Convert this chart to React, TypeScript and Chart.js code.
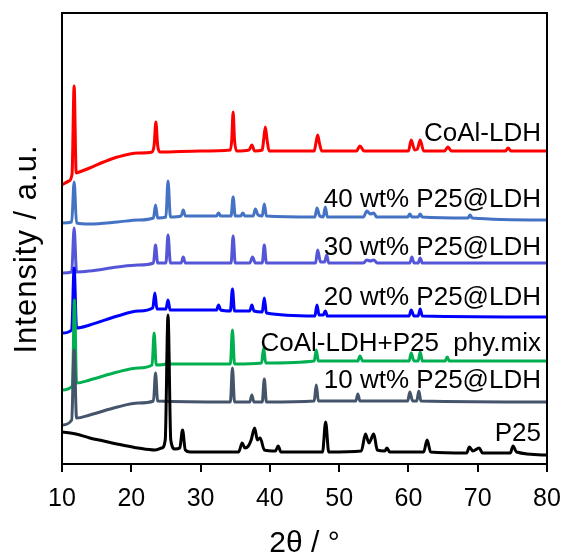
import React, { useEffect, useRef } from "react";
import { Chart, registerables } from "chart.js";

Chart.register(...registerables);

// 2θ (°) vs stacked intensity (a.u., offset included)
const coalLdh: number[][] = [
  [10, 279], [11.0, 283], [11.45, 290], [11.75, 378], [12.05, 291], [12.5, 292], [14, 296], [16, 302], [18, 307], [21, 311],
  [23.0, 312], [23.3, 319], [23.55, 342], [23.8, 319], [24.1, 312], [30, 313], [34.3, 314], [34.5, 324], [34.7, 352], [34.9, 324],
  [35.2, 313], [37.0, 314], [37.4, 319], [37.8, 313], [38.9, 314], [39.1, 324], [39.35, 337], [39.6, 324], [39.9, 313],
  [46.4, 313], [46.65, 321], [46.9, 329], [47.15, 321], [47.5, 313], [52.5, 313], [53.0, 318], [53.6, 313], [60.0, 313],
  [60.4, 324], [60.9, 314], [61.3, 315], [61.7, 324], [62.2, 313], [65.2, 313], [65.7, 317], [66.2, 313], [74.0, 313],
  [74.4, 316], [74.8, 313], [80, 313],
];
const wt40: number[][] = [
  [10, 241], [11.4, 242], [11.75, 282], [12.1, 241], [14, 240], [18, 242], [21, 244], [23.2, 246], [23.5, 259], [23.8, 246],
  [25.0, 247], [25.3, 283], [25.65, 247], [27.2, 248], [27.5, 254], [27.8, 248], [32.3, 248], [32.6, 251], [32.9, 248],
  [34.4, 248], [34.7, 267], [35.0, 248], [35.8, 248], [36.1, 251], [36.4, 248], [37.6, 248], [37.9, 255], [38.3, 249],
  [38.9, 248], [39.2, 260], [39.5, 248], [46.5, 247], [46.8, 256], [47.2, 248], [47.7, 247], [48.0, 257], [48.3, 247],
  [53.5, 247], [54.0, 253], [54.5, 250], [55.0, 251], [55.4, 247], [59.9, 247], [60.2, 250], [60.5, 247], [61.4, 247],
  [61.7, 250], [62.0, 247], [68.6, 246], [68.9, 249], [69.2, 246], [80, 244],
];
const wt30: number[][] = [
  [10, 191], [11.4, 192], [11.75, 236], [12.1, 192], [14, 193], [18, 197], [21, 199], [23.2, 201], [23.5, 219], [23.8, 201],
  [25.0, 201], [25.3, 229], [25.65, 201], [27.2, 201], [27.5, 207], [27.8, 201], [34.4, 201], [34.7, 228], [35.0, 201],
  [37.1, 201], [37.5, 207], [37.9, 201], [38.9, 201], [39.2, 219], [39.5, 201], [46.6, 201], [46.9, 214], [47.3, 202],
  [47.9, 202], [48.2, 209], [48.5, 201], [53.5, 201], [54.0, 204], [54.5, 203], [55.0, 204], [55.5, 201], [60.2, 201],
  [60.5, 207], [60.8, 201], [61.4, 201], [61.7, 206], [62.0, 201], [80, 201],
];
const wt20: number[][] = [
  [10, 131], [11.4, 134], [11.75, 196], [12.1, 136], [14, 139], [18, 148], [21, 153], [23.1, 156], [23.4, 171], [23.7, 155],
  [25.0, 155], [25.3, 164], [25.6, 154], [32.3, 154], [32.6, 159], [32.9, 154], [34.3, 153], [34.6, 175], [34.9, 153],
  [37.1, 153], [37.4, 159], [37.7, 153], [38.9, 152], [39.2, 166], [39.5, 151], [46.5, 148], [46.8, 159], [47.1, 149],
  [47.7, 149], [48.0, 153], [48.3, 148], [60.1, 148], [60.4, 154], [60.8, 148], [61.4, 148], [61.7, 155], [62.0, 148],
  [80, 147],
];
const phyMix: number[][] = [
  [10, 74], [11.5, 78], [11.8, 164], [12.1, 81], [14, 84], [18, 92], [21, 96], [23.0, 99], [23.3, 131], [23.6, 99],
  [25.0, 100], [25.3, 106], [25.6, 100], [34.3, 100], [34.6, 134], [34.9, 100], [38.8, 101], [39.1, 116], [39.4, 101],
  [46.4, 103], [46.7, 114], [47.0, 103], [52.7, 103], [53.0, 108], [53.4, 103], [60.1, 103], [60.4, 111], [60.8, 103],
  [61.4, 103], [61.7, 112], [62.0, 103], [65.3, 103], [65.6, 107], [65.9, 103], [80, 103],
];
const wt10: number[][] = [
  [10, 39], [11.4, 44], [11.75, 114], [12.1, 46], [14, 49], [18, 57], [21, 61], [23.2, 63], [23.5, 91], [23.8, 63],
  [34.3, 62], [34.6, 96], [34.9, 62], [37.1, 62], [37.4, 69], [37.7, 62], [38.9, 62], [39.2, 85], [39.5, 62], [46.4, 63],
  [46.7, 79], [47.0, 63], [52.4, 63], [52.7, 70], [53.0, 63], [59.9, 63], [60.2, 72], [60.6, 63], [61.2, 63], [61.5, 73],
  [61.8, 63], [80, 62],
];
const p25: number[][] = [
  [10, 32], [12, 30], [14, 26], [16, 23], [18.7, 19], [21, 16], [23.4, 14], [24.4, 16], [24.9, 24], [25.3, 149], [25.7, 24],
  [26.3, 15], [27.0, 16], [27.4, 34], [27.8, 14], [28.5, 12], [35.5, 12], [36.0, 21], [36.4, 16], [36.9, 18], [37.3, 24],
  [37.8, 36], [38.2, 24], [38.6, 26], [39.2, 14], [40.8, 13], [41.2, 18], [41.6, 12], [47.6, 12], [48.05, 42], [48.5, 12],
  [53.2, 13], [53.8, 30], [54.3, 21], [55.0, 30], [55.5, 14], [56.6, 13], [56.9, 16], [57.3, 12], [62.2, 12], [62.7, 24],
  [63.2, 12], [68.4, 11], [68.8, 17], [69.3, 13], [70.2, 16], [70.7, 11], [74.7, 11], [75.1, 18], [75.6, 12], [80, 9],
];

const seriesNames = ["P25", "10 wt% P25@LDH", "CoAl-LDH+P25  phy.mix", "20 wt% P25@LDH", "30 wt% P25@LDH", "40 wt% P25@LDH", "CoAl-LDH"];
const seriesData = [p25, wt10, phyMix, wt20, wt30, wt40, coalLdh];
const seriesColors = ["#000000", "#44546A", "#00B050", "#0000FF", "#5555D8", "#4472C4", "#FF0000"];
// label vertical positions in data units
const labelLevels = [32, 85, 122, 168, 218, 266, 332];
const xTicks = [10, 20, 30, 40, 50, 60, 70, 80];

const FONT = "Arial, 'Liberation Sans', sans-serif";

export default function App() {
  const ref = useRef<HTMLCanvasElement | null>(null);
  useEffect(() => {
    if (!ref.current) return;
    const framePlugin = {
      id: "frameAndLabels",
      afterDraw(chart: any) {
        const { ctx, chartArea, scales } = chart;
        ctx.save();
        ctx.strokeStyle = "#000";
        ctx.lineWidth = 2;
        ctx.strokeRect(chartArea.left, chartArea.top, chartArea.right - chartArea.left, chartArea.bottom - chartArea.top);
        ctx.fillStyle = "#000";
        ctx.font = `26px ${FONT}`;
        ctx.textAlign = "right";
        ctx.textBaseline = "alphabetic";
        seriesNames.forEach((name, i) => {
          const y = scales.y.getPixelForValue(labelLevels[i]);
          ctx.fillText(name, chartArea.right - 6, y + 9);
        });
        ctx.font = `30px ${FONT}`;
        ctx.textAlign = "center";
        ctx.fillText("2θ / °", (chartArea.left + chartArea.right) / 2, 552);
        ctx.translate(36, 249);
        ctx.rotate(-Math.PI / 2);
        ctx.font = `31px ${FONT}`;
        (ctx as any).letterSpacing = "1px";
        ctx.fillText("Intensity / a.u.", 0, 0);
        ctx.restore();
      },
    };
    const chart = new Chart(ref.current, {
      type: "line",
      data: {
        datasets: seriesData.map((d, i) => ({
          label: seriesNames[i],
          data: d.map((p) => ({ x: p[0], y: p[1] })),
          borderColor: seriesColors[i],
          borderWidth: 3,
          pointRadius: 0,
          cubicInterpolationMode: "monotone" as const,
          fill: false,
        })),
      },
      options: {
        animation: false,
        responsive: false,
        maintainAspectRatio: false,
        layout: { padding: { left: 62, right: 19, top: 13, bottom: 0 } },
        plugins: { legend: { display: false }, tooltip: { enabled: false } },
        scales: {
          x: {
            type: "linear",
            min: 10,
            max: 80,
            afterBuildTicks: (s: any) => {
              s.ticks = xTicks.map((v) => ({ value: v }));
            },
            afterFit: (s: any) => {
              s.height = 93;
              s.paddingLeft = 0;
              s.paddingRight = 0;
            },
            border: { display: false },
            grid: { drawOnChartArea: false, drawTicks: true, tickLength: 8, color: "#000", lineWidth: 2 },
            ticks: { color: "#000", font: { size: 25, family: FONT }, padding: 12, maxRotation: 0 },
          },
          y: { type: "linear", min: 0, max: 451, display: false },
        },
      },
      plugins: [framePlugin],
    });
    return () => chart.destroy();
  }, []);
  return (
    <div style={{ position: "absolute", left: 0, top: 0, width: 566, height: 557 }}>
      <canvas ref={ref} width={566} height={557} style={{ width: 566, height: 557, display: "block" }} />
    </div>
  );
}
